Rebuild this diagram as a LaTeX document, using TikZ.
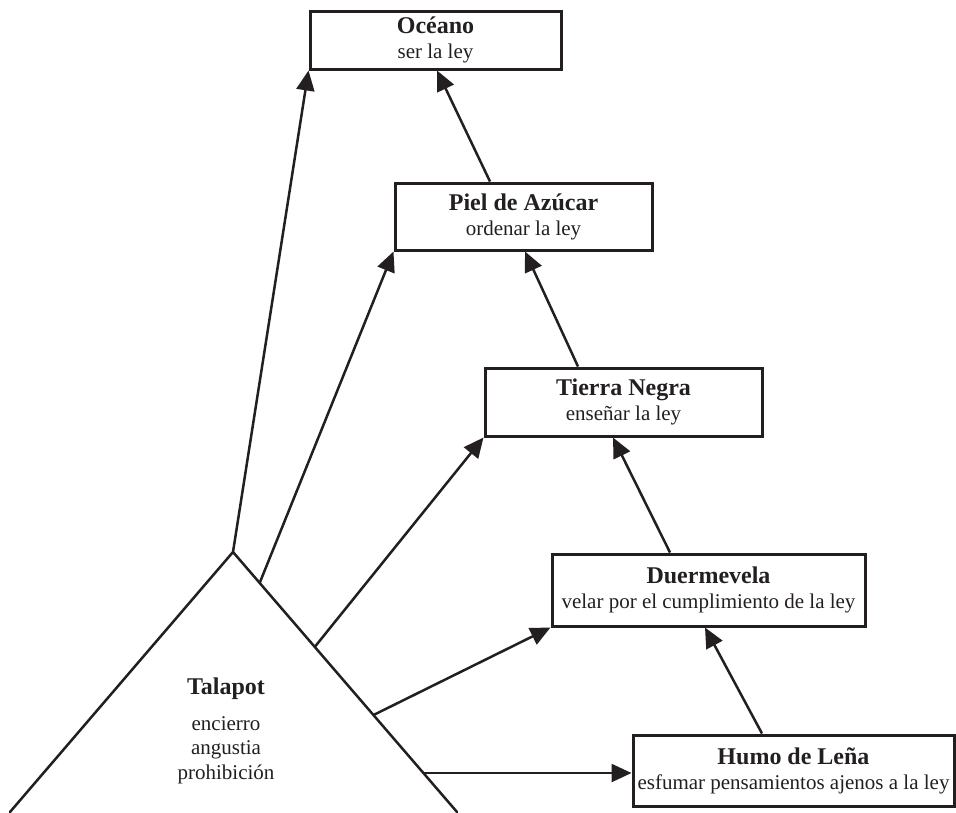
\documentclass[tikz,border=0pt]{standalone}
\usepackage{fontspec}
\setmainfont{Liberation Serif}
\usetikzlibrary{arrows.meta,calc}
\definecolor{ink}{HTML}{231F20}
\tikzset{
  lawbox/.style={draw=ink, line width=3pt, inner sep=0pt, align=center,
    text=ink, font=\fontsize{21}{25}\selectfont},
  conn/.style={draw=ink, line width=2.5pt, -{Triangle[length=20pt,width=18pt]}},
  side/.style={draw=ink, line width=2.5pt, line cap=round}
}
\newcommand{\ttl}[1]{{\bfseries\fontsize{24}{25}\selectfont #1}}
\begin{document}
\begin{tikzpicture}[x=1pt,y=-1pt]
\useasboundingbox (0,0) rectangle (956,812);
% boxes
\node[lawbox, minimum width=251pt, minimum height=58pt] (ocean) at (435.5,40) {\ttl{Océano}\\ ser la ley};
\node[lawbox, minimum width=257pt, minimum height=67pt] (piel) at (523.5,216.5) {\ttl{Piel de Azúcar}\\ ordenar la ley};
\node[lawbox, minimum width=277pt, minimum height=68pt] (tierra) at (623.5,402) {\ttl{Tierra Negra}\\ enseñar la ley};
\node[lawbox, minimum width=313pt, minimum height=72pt] (duer) at (708.5,590) {\ttl{Duermevela}\\ velar por el cumplimiento de la ley};
\node[lawbox, minimum width=321pt, minimum height=71pt] (humo) at (793.5,770.5) {\ttl{Humo de Leña}\\ esfumar pensamientos ajenos a la ley};
% triangle
\coordinate (apex) at (233,552);
\coordinate (bl) at (10,812);
\coordinate (br) at (457,812);
\draw[side] (bl) -- (apex) -- (br);
\node[text=ink, align=center, inner sep=0pt, font=\fontsize{21}{24.5}\selectfont] (talapot) at (226,731)
  {\ttl{Talapot}\\[11pt] encierro\\ angustia\\ prohibición};
\coordinate (t1) at ($(apex)!0.119!(br)$);
\coordinate (t2) at ($(apex)!0.365!(br)$);
\coordinate (t3) at ($(apex)!0.627!(br)$);
\coordinate (t4) at ($(apex)!0.85!(br)$);
% arrows from Talapot
\draw[conn] (apex) -- (ocean.south west);
\draw[conn] (t1) -- (piel.south west);
\draw[conn] (t2) -- (tierra.south west);
\draw[conn] (t3) -- (duer.south west);
\draw[conn] (t4) -- (t4 -| humo.west);
% chain
\draw[conn] ([xshift=-31.5pt]humo.north) -- ([xshift=-3.5pt]duer.south);
\draw[conn] ([xshift=-38.5pt]duer.north) -- ([xshift=-10.5pt]tierra.south);
\draw[conn] ([xshift=-45.5pt]tierra.north) -- ([xshift=1.5pt]piel.south);
\draw[conn] ([xshift=-33.5pt]piel.north) -- ([xshift=1.5pt]ocean.south);
\end{tikzpicture}
\end{document}
